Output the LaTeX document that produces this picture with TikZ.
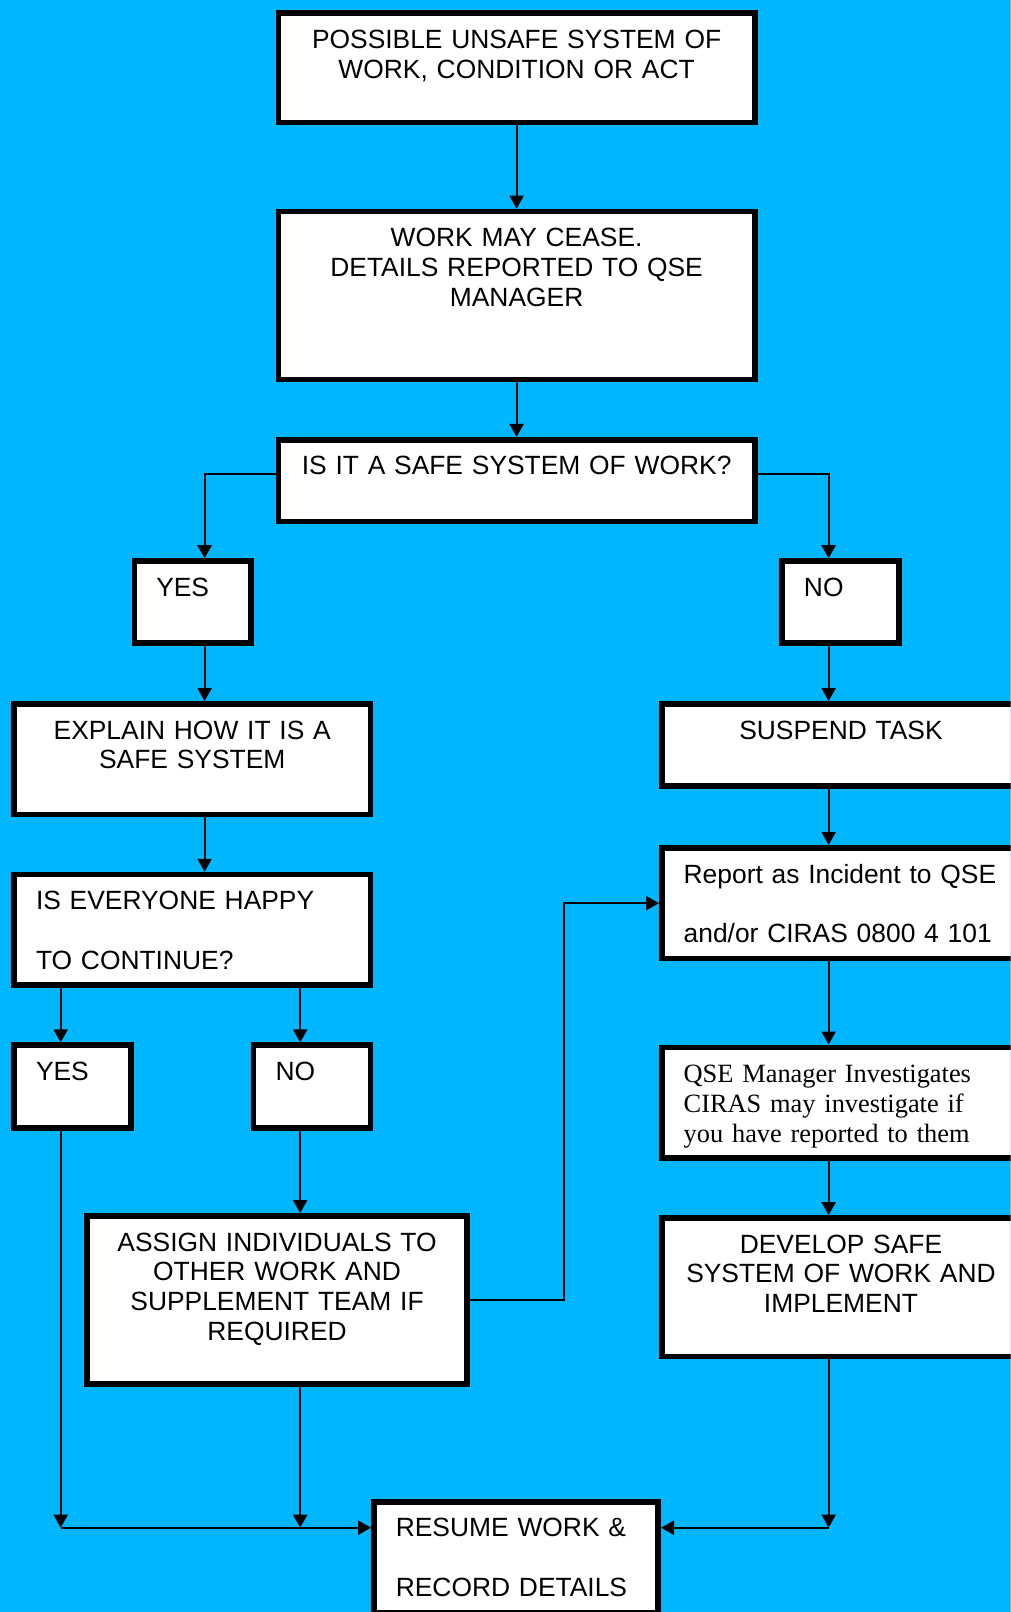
\documentclass[tikz,border=0pt]{standalone}
\usepackage{fontspec}
\setmainfont{Liberation Sans}
\newfontfamily\qsefont{Liberation Serif}
\usepackage{tikz}
\usetikzlibrary{calc}
\usetikzlibrary{arrows.meta}

\definecolor{sky}{RGB}{0,182,255}

\tikzset{
  stepbox/.style={draw, line width=2.8pt, fill=white, anchor=north west,
    inner xsep=10.95pt, inner ysep=7.6pt, text height=10pt,
    font=\fontsize{13.2}{14.9}\selectfont},
  boxdims/.style 2 args={text width={#1*0.5142pt-24.7pt}, text depth={#2*0.5142pt-28pt}},
  textmid/.style={align=center},
  textleft/.style={align=left},
  flow/.style={line width=1pt}
}

\begin{document}
\begin{tikzpicture}[x=0.5142pt, y=-0.5142pt, >={Triangle[length=6.5pt, width=7pt]}]
  \useasboundingbox (0,0) rectangle (983,1568);
  \clip (0,0) rectangle (983,1568);
  \fill [sky] (0,0) rectangle (983,1568);

  \path (268,10) node (box1) [stepbox, textmid, boxdims={469}{112}] {POSSIBLE UNSAFE SYSTEM OF\\WORK, CONDITION OR ACT};
  \path (268,203) node (box2) [stepbox, textmid, boxdims={469}{169}] {WORK MAY CEASE.\\DETAILS REPORTED TO QSE\\MANAGER};
  \path (268,425) node (safe) [stepbox, textmid, boxdims={469}{85}] {IS IT A SAFE SYSTEM OF WORK?};
  \path (128,543) node (yes1) [stepbox, textleft, boxdims={119}{85}] {YES};
  \path (758,543) node (no1) [stepbox, textleft, boxdims={119}{85}] {NO};
  \path (11,682) node (explain) [stepbox, textmid, boxdims={352}{113}] {EXPLAIN HOW IT IS A\\SAFE SYSTEM};
  \path (641,682) node (suspend) [stepbox, textmid, boxdims={354}{85}] {SUSPEND TASK};
  \path (11,848) node (happy) [stepbox, textleft, boxdims={352}{113}] {IS EVERYONE HAPPY\\[14.9pt]TO CONTINUE?};
  \path (641,822) node (report) [stepbox, textleft, boxdims={354}{113}] {Report as Incident to QSE\\[14.9pt]and/or CIRAS 0800 4 101};
  \path (11,1014) node (yes2) [stepbox, textleft, boxdims={119}{86}] {YES};
  \path (244,1014) node (no2) [stepbox, textleft, boxdims={119}{86}] {NO};
  \path (641,1016) node (qse) [stepbox, textleft, boxdims={354}{113}, font=\qsefont\fontsize{13.2}{14.9}\selectfont] {QSE Manager Investigates\\CIRAS may investigate if\\you have reported to them};
  \path (82,1180) node (assign) [stepbox, textmid, boxdims={375}{169}] {ASSIGN INDIVIDUALS TO\\OTHER WORK AND\\SUPPLEMENT TEAM IF\\REQUIRED};
  \path (641,1182) node (develop) [stepbox, textmid, boxdims={354}{140}] {DEVELOP SAFE\\SYSTEM OF WORK AND\\IMPLEMENT};
  \path (361,1458) node (resume) [stepbox, textleft, boxdims={282}{113}] {RESUME WORK \&\\[14.9pt]RECORD DETAILS};

  \coordinate (lx) at (199,0);
  \coordinate (rx) at (806,0);
  \coordinate (ax) at (59,0);
  \coordinate (bx) at (292,0);
  \coordinate (cx) at (549,0);
  \coordinate (jy) at (0,1486);

  \draw [->, flow] (box1.south) -- (box2.north);
  \draw [->, flow] (box2.south) -- (safe.north);
  \draw [->, flow] ([yshift=3.3pt]safe.west) -| (yes1.north -| lx);
  \draw [->, flow] ([yshift=3.3pt]safe.east) -| (no1.north -| rx);
  \draw [->, flow] (yes1.south -| lx) -- (explain.north -| lx);
  \draw [->, flow] (no1.south -| rx) -- (suspend.north -| rx);
  \draw [->, flow] (explain.south -| lx) -- (happy.north -| lx);
  \draw [->, flow] (suspend.south -| rx) -- (report.north -| rx);
  \draw [->, flow] (happy.south -| ax) -- (yes2.north -| ax);
  \draw [->, flow] (happy.south -| bx) -- (no2.north -| bx);
  \draw [->, flow] (report.south -| rx) -- (qse.north -| rx);
  \draw [->, flow] (qse.south -| rx) -- (develop.north -| rx);
  \draw [->, flow] (no2.south -| bx) -- (assign.north -| bx);
  \draw [->, flow] (assign.east) -- (assign.east -| cx) -- (report.west -| cx) -- (report.west);
  \draw [->, flow] (yes2.south -| ax) -- (ax |- jy);
  \draw [->, flow] (assign.south -| bx) -- (bx |- jy);
  \draw [->, flow] (ax |- jy) -- (resume.west |- jy);
  \draw [->, flow] (develop.south -| rx) -- (rx |- jy);
  \draw [->, flow] (rx |- jy) -- (resume.east |- jy);
\end{tikzpicture}
\end{document}
